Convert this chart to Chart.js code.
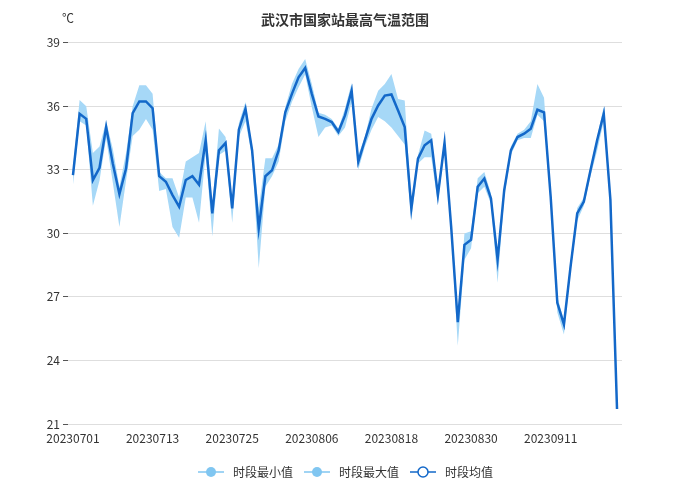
<!DOCTYPE html>
<html>
<head>
<meta charset="utf-8">
<title>武汉市国家站最高气温范围</title>
<script src="https://cdn.jsdelivr.net/npm/chart.js@4.4.1/dist/chart.umd.min.js"></script>
<style>
  html, body { margin: 0; padding: 0; background: #fff; }
  #wrap { width: 690px; height: 488px; }
</style>
</head>
<body>
<div id="wrap"><canvas id="tempChart" width="690" height="488"></canvas></div>
<script>
// ngày quan trắc 2023-07-01 .. 2023-09-21
const DATES = [
  "20230701","20230702","20230703","20230704","20230705","20230706","20230707","20230708","20230709","20230710",
  "20230711","20230712","20230713","20230714","20230715","20230716","20230717","20230718","20230719","20230720",
  "20230721","20230722","20230723","20230724","20230725","20230726","20230727","20230728","20230729","20230730",
  "20230731","20230801","20230802","20230803","20230804","20230805","20230806","20230807","20230808","20230809",
  "20230810","20230811","20230812","20230813","20230814","20230815","20230816","20230817","20230818","20230819",
  "20230820","20230821","20230822","20230823","20230824","20230825","20230826","20230827","20230828","20230829",
  "20230830","20230831","20230901","20230902","20230903","20230904","20230905","20230906","20230907","20230908",
  "20230909","20230910","20230911","20230912","20230913","20230914","20230915","20230916","20230917","20230918",
  "20230919","20230920","20230921"
];

// 时段最小值
const MIN_VALUES = [
  32.3, 35.3, 35.1, 31.3, 32.5, 34.5, 32.4, 30.3, 32.5, 34.6,
  34.9, 35.4, 34.9, 32.0, 32.1, 30.3, 29.8, 31.7, 31.7, 30.5,
  33.8, 29.85, 33.7, 33.9, 30.5, 34.55, 35.3, 33.6, 28.35, 32.2,
  32.7, 33.4, 35.3, 36.2, 36.9, 37.5, 35.96, 34.55, 35.0, 35.1,
  34.6, 35.0, 36.2, 33.0, 34.1, 34.9, 35.5, 35.3, 35.0, 34.6,
  34.2, 30.6, 33.3, 33.6, 33.6, 31.4, 34.1, 30.1, 24.7, 28.76,
  29.3, 31.9, 32.2, 31.4, 27.67, 31.7, 33.7, 34.4, 34.5, 34.5,
  35.6, 35.3, 31.4, 26.26, 25.23, 28.2, 30.6, 31.3, 32.7, 33.9,
  35.3, 31.2, 21.7
];

// 时段最大值
const MAX_VALUES = [
  33.1, 36.3, 36.0, 33.8, 34.1, 35.3, 34.0, 32.2, 33.8, 36.0,
  37.0, 37.0, 36.6, 32.9, 32.6, 32.6, 31.7, 33.4, 33.6, 33.8,
  35.3, 31.3, 34.95, 34.55, 31.4, 35.2, 36.2, 34.1, 31.2, 33.55,
  33.55, 34.2, 35.96, 37.06, 37.76, 38.23, 37.06, 35.7, 35.6, 35.4,
  34.95, 35.9, 37.1, 33.7, 34.55, 35.9, 36.74, 37.06, 37.53, 36.35,
  36.27, 31.4, 33.7, 34.86, 34.7, 32.0, 34.5, 30.5, 25.9, 30.0,
  30.1, 32.6, 32.9, 31.9, 29.1, 32.2, 34.1, 34.7, 34.9, 35.3,
  37.06, 36.4, 32.0, 27.0, 25.9, 28.7, 31.2, 31.7, 33.15, 34.55,
  36.0, 31.8, 21.72
];

// 时段均值
const MEAN_VALUES = [
  32.75, 35.65, 35.41, 32.52, 33.1, 35.02, 33.3, 31.86, 33.06, 35.68,
  36.23, 36.23, 35.91, 32.7, 32.44, 31.81, 31.26, 32.52, 32.7, 32.3,
  34.4, 30.95, 33.92, 34.27, 31.18, 34.9, 35.88, 33.92, 30.24, 32.7,
  32.98, 33.92, 35.72, 36.59, 37.37, 37.81, 36.59, 35.52, 35.41, 35.26,
  34.8, 35.57, 36.74, 33.38, 34.4, 35.41, 36.04, 36.51, 36.56, 35.8,
  35.02, 31.18, 33.53, 34.16, 34.4, 31.81, 34.27, 30.32, 25.81, 29.46,
  29.7, 32.2, 32.59, 31.65, 28.76, 32.05, 33.92, 34.55, 34.71, 34.94,
  35.84, 35.72, 31.73, 26.72, 25.7, 28.44, 30.95, 31.5, 32.98, 34.4,
  35.65, 31.6, 21.71
];

// vị trí nhãn trục X (mỗi 12 ngày)
const X_TICK_IDX = [0, 12, 24, 36, 48, 60, 72];
const Y_TICKS = [21, 24, 27, 30, 33, 36, 39];

const BAND_COLOR = "#a6d8f7";
const BAND_DOT   = "#80c6f1";
const MEAN_COLOR = "#1368c9";

// ký hiệu chú giải: đường + chấm tròn
function legendIcon(lineColor, fill, stroke) {
  const c = document.createElement("canvas");
  c.width = 30; c.height = 14;
  const g = c.getContext("2d");
  g.strokeStyle = lineColor;
  g.lineWidth = 1.5;
  g.beginPath(); g.moveTo(1, 7); g.lineTo(27, 7); g.stroke();
  g.beginPath(); g.arc(14, 7, 5, 0, Math.PI * 2);
  g.fillStyle = fill; g.fill();
  if (stroke) { g.strokeStyle = stroke; g.lineWidth = 1.5; g.stroke(); }
  return c;
}
const ICONS = [
  legendIcon(BAND_DOT, BAND_DOT),
  legendIcon(BAND_DOT, BAND_DOT),
  legendIcon(MEAN_COLOR, "#fff", MEAN_COLOR)
];

const toXY = arr => arr.map((v, i) => ({ x: i, y: v }));

// đơn vị ℃ ở góc trên trái
const unitLabel = {
  id: "unitLabel",
  afterDraw(chart) {
    const ctx = chart.ctx;
    ctx.save();
    ctx.font = '12px "Noto Sans CJK SC", sans-serif';
    ctx.fillStyle = "#333";
    ctx.textAlign = "center";
    ctx.textBaseline = "middle";
    ctx.fillText("℃", chart.chartArea.left, 18);
    ctx.restore();
  }
};

Chart.defaults.font.family = '"Noto Sans CJK SC", "Microsoft YaHei", sans-serif';
Chart.defaults.color = "#333";

new Chart(document.getElementById("tempChart"), {
  type: "line",
  data: {
    datasets: [
      {
        label: "时段最小值",
        data: toXY(MIN_VALUES),
        borderWidth: 0,
        borderColor: BAND_COLOR,
        backgroundColor: BAND_COLOR,
        pointRadius: 0,
        fill: false,
        order: 2
      },
      {
        label: "时段最大值",
        data: toXY(MAX_VALUES),
        borderWidth: 0,
        borderColor: BAND_COLOR,
        backgroundColor: BAND_COLOR,
        pointRadius: 0,
        fill: "-1",
        order: 2
      },
      {
        label: "时段均值",
        data: toXY(MEAN_VALUES),
        borderWidth: 2.5,
        borderColor: MEAN_COLOR,
        backgroundColor: "#fff",
        pointRadius: 0,
        fill: false,
        order: 1   // vẽ trên dải min–max
      }
    ]
  },
  options: {
    responsive: false,
    devicePixelRatio: 1,
    animation: false,
    layout: { padding: 0 },
    scales: {
      x: {
        type: "linear",
        min: -0.75,
        max: 82.75,
        afterBuildTicks: s => { s.ticks = X_TICK_IDX.map(v => ({ value: v })); },
        afterFit: s => { s.height = 32; },
        grid: { display: false, drawTicks: false },
        border: { display: false },
        ticks: {
          padding: 7,
          maxRotation: 0,
          autoSkip: false,
          font: { size: 12 },
          color: "#333",
          callback: v => DATES[v]
        }
      },
      y: {
        min: 21,
        max: 39,
        afterBuildTicks: s => { s.ticks = Y_TICKS.map(v => ({ value: v })); },
        afterFit: s => { s.width = 68; },
        grid: { color: "#dedede", lineWidth: 1, tickColor: "#555", tickLength: 5 },
        border: { display: false },
        ticks: { padding: 3, font: { size: 12 }, color: "#333" }
      },
      // trục phụ bên phải chỉ để chừa lề, giữ chú giải ở giữa
      yPad: {
        position: "right",
        display: true,
        afterFit: s => { s.width = 68; },
        grid: { display: false, drawTicks: false },
        border: { display: false },
        ticks: { display: false }
      }
    },
    plugins: {
      title: {
        display: true,
        text: "武汉市国家站最高气温范围",
        color: "#333",
        font: { size: 14, weight: "bold" },
        padding: { top: 11, bottom: 15 }
      },
      legend: {
        position: "bottom",
        labels: {
          usePointStyle: true,
          pointStyleWidth: 30,
          padding: 10,
          color: "#333",
          font: { size: 12 },
          sort: (a, b) => a.datasetIndex - b.datasetIndex,
          generateLabels: chart => {
            const items = Chart.defaults.plugins.legend.labels.generateLabels(chart);
            items.forEach(it => { it.pointStyle = ICONS[it.datasetIndex]; });
            return items;
          }
        }
      },
      tooltip: { enabled: false }
    }
  },
  plugins: [unitLabel]
});
</script>
</body>
</html>
